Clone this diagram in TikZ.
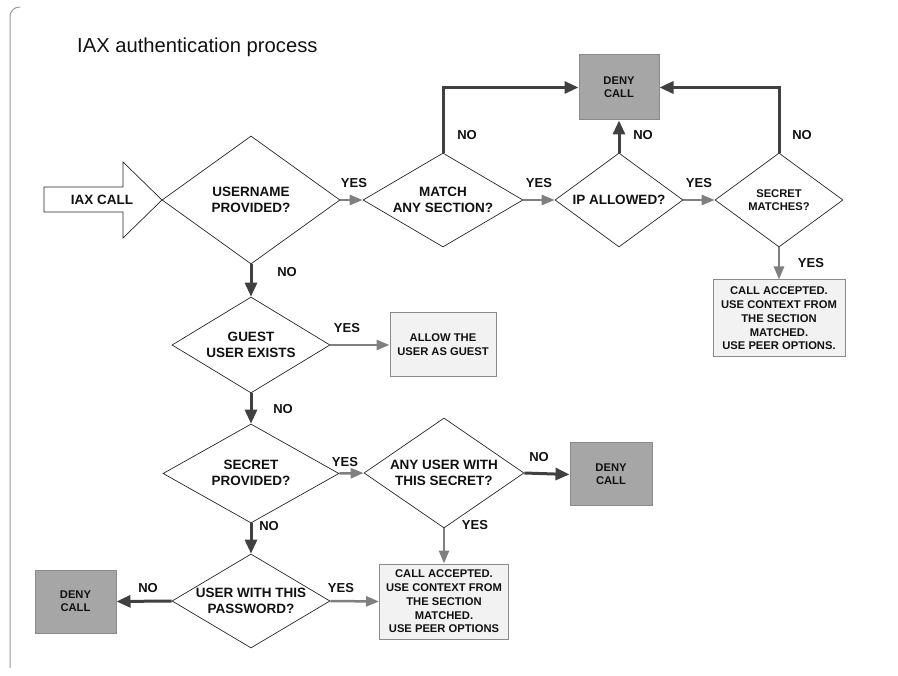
\documentclass[tikz,border=0pt]{standalone}
\usepackage{fontspec}
\setmainfont{Liberation Sans}
\usetikzlibrary{shapes.geometric,arrows.meta}
\definecolor{darkln}{HTML}{404040}
\definecolor{grayln}{HTML}{7F7F7F}
\definecolor{denyfill}{HTML}{A6A6A6}
\definecolor{boxfill}{HTML}{F2F2F2}
\definecolor{boxline}{HTML}{8A8A8A}
\definecolor{txt}{HTML}{111111}
\definecolor{frameln}{HTML}{9A9A9A}
\begin{document}
\begin{tikzpicture}[x=1pt,y=-1pt,
  dia/.style={draw=black!85, line width=0.7pt, shape=diamond, inner sep=0pt, fill=white},
  dtext/.style={font=\bfseries\fontsize{13.5}{16}\selectfont, align=center, text=txt, inner sep=0pt},
  stext/.style={font=\bfseries\fontsize{11.2}{13.4}\selectfont, align=center, text=txt, inner sep=0pt},
  denybox/.style={draw=boxline, fill=denyfill, line width=1pt, inner sep=0pt,
    font=\bfseries\fontsize{11.2}{13.4}\selectfont, align=center, text=txt},
  okbox/.style={draw=boxline, fill=boxfill, line width=1pt, inner sep=0pt,
    font=\bfseries\fontsize{11.2}{13.8}\selectfont, align=center, text=txt},
  darr/.style={draw=darkln, line width=3pt, -{Triangle[length=14pt,width=12pt]}},
  garr/.style={draw=grayln, line width=2.5pt, -{Triangle[length=13pt,width=10pt]}},
  lab/.style={font=\bfseries\fontsize{13}{15}\selectfont, text=txt, inner sep=0pt}]
\useasboundingbox (0,0) rectangle (898,676);
% frame
\draw[frameln, line width=1pt] (20,7) .. controls (14,7) and (10,11) .. (10,17) -- (10,668);
% title
\node[anchor=base west, inner sep=0pt, font=\fontsize{20.2}{24}\selectfont, text=txt] (title) at (77,53) {IAX authentication process};
% IAX call arrow
\draw[black!85, line width=0.7pt, fill=white] (44,187) -- (123,187) -- (123,162) -- (162,200) -- (123,238) -- (123,212) -- (44,212) -- cycle;
\node[dtext] (iax) at (102,200) {IAX CALL};
% diamonds
\node[dia, minimum width=178pt, minimum height=128pt] (d1) at (251,200) {};
\node[dtext] (d1t) at (251,200) {USERNAME\\PROVIDED?};
\node[dia, minimum width=160pt, minimum height=94pt] (d2) at (443,200) {};
\node[dtext] (d2t) at (443,200) {MATCH\\ANY SECTION?};
\node[dia, minimum width=128pt, minimum height=94pt] (d3) at (619,200) {};
\node[dtext] (d3t) at (619,200) {IP ALLOWED?};
\node[dia, minimum width=128pt, minimum height=94pt] (d4) at (779,200) {};
\node[stext] (d4t) at (779,200) {SECRET\\MATCHES?};
\node[dia, minimum width=158pt, minimum height=96pt] (d5) at (251,345) {};
\node[dtext] (d5t) at (251,345) {GUEST\\USER EXISTS};
\node[dia, minimum width=176pt, minimum height=99pt] (d6) at (251,473.5) {};
\node[dtext] (d6t) at (251,473) {SECRET\\PROVIDED?};
\node[dia, minimum width=160pt, minimum height=110pt] (d7) at (444,473) {};
\node[dtext] (d7t) at (444,473) {ANY USER WITH\\THIS SECRET?};
\node[dia, minimum width=158pt, minimum height=94pt] (d8) at (251,601) {};
\node[dtext] (d8t) at (251,601) {USER WITH THIS\\PASSWORD?};
% boxes
\node[denybox, minimum width=80pt, minimum height=65pt] (deny1) at (619,87.5) {DENY\\CALL};
\node[okbox, minimum width=132pt, minimum height=77pt] (acc1) at (779,318.5) {CALL ACCEPTED.\\USE CONTEXT FROM\\THE SECTION\\MATCHED.\\USE PEER OPTIONS.};
\node[okbox, minimum width=106pt, minimum height=64pt] (allow) at (443,345) {ALLOW THE\\USER AS GUEST};
\node[denybox, minimum width=82pt, minimum height=63pt] (deny2) at (611,474.5) {DENY\\CALL};
\node[okbox, minimum width=129pt, minimum height=75pt] (acc2) at (444,601.5) {CALL ACCEPTED.\\USE CONTEXT FROM\\THE SECTION\\MATCHED.\\USE PEER OPTIONS};
\node[denybox, minimum width=81pt, minimum height=63pt] (deny3) at (75.5,601.5) {DENY\\CALL};
% connectors
\draw[garr] (d1.east) -- (d2.west);
\draw[garr] (d2.east) -- (d3.west);
\draw[garr] (d3.east) -- (d4.west);
\draw[darr] (d2.north) |- (deny1.west);
\draw[darr] (d3.north) -- (deny1.south);
\draw[darr] (d4.north) |- (deny1.east);
\draw[garr] (d4.south) -- (acc1.north);
\draw[darr] (d1.south) -- (d5.north);
\draw[garr] (d5.east) -- (allow.west);
\draw[darr] (d5.south) -- (d6.north);
\draw[garr] (d6.east) -- (d7.west);
\draw[darr] (d7.east) -- (deny2.west);
\draw[garr] (d7.south) -- (acc2.north);
\draw[darr] (d6.south) -- (d8.north);
\draw[garr] (d8.east) -- (acc2.west);
\draw[darr] (d8.west) -- (deny3.east);
% labels
\node[lab] (l1) at (354,183) {YES};
\node[lab] (l2) at (539,183) {YES};
\node[lab] (l3) at (699,183) {YES};
\node[lab] (l4) at (467,135) {NO};
\node[lab] (l5) at (643,135) {NO};
\node[lab] (l6) at (802,135) {NO};
\node[lab] (l7) at (811,263) {YES};
\node[lab] (l8) at (287,272) {NO};
\node[lab] (l9) at (347,328) {YES};
\node[lab] (l10) at (283,409) {NO};
\node[lab] (l11) at (345,462) {YES};
\node[lab] (l12) at (539,457) {NO};
\node[lab] (l13) at (475,525) {YES};
\node[lab] (l14) at (269,526) {NO};
\node[lab] (l15) at (341,588) {YES};
\node[lab] (l16) at (148,588) {NO};
\end{tikzpicture}
\end{document}
